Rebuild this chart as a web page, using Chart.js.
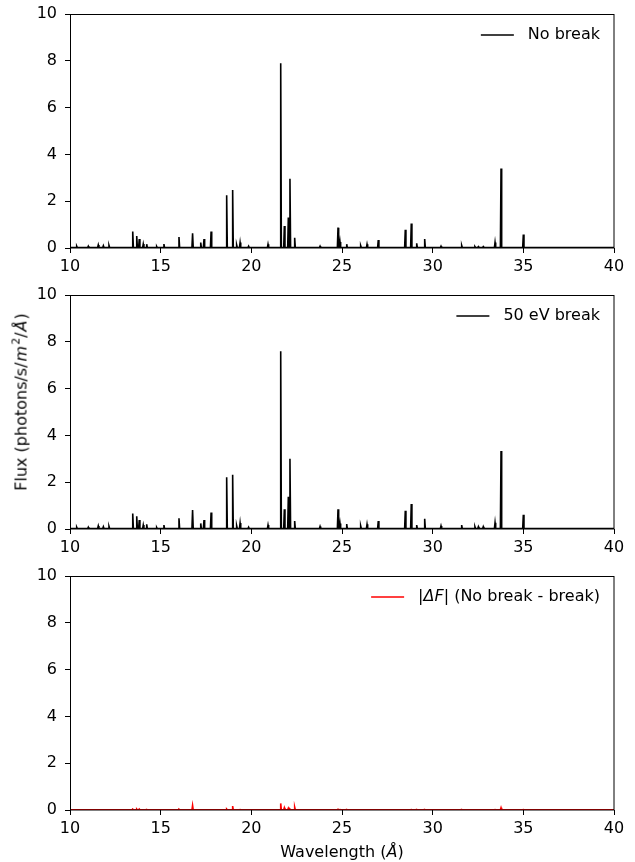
<!DOCTYPE html>
<html>
<head>
<meta charset="utf-8">
<script src="https://cdn.jsdelivr.net/npm/chart.js@4"></script>
<style>
  html, body { margin: 0; padding: 0; background: #fff; }
  body { width: 635px; height: 862px; position: relative; overflow: hidden; font-family: "DejaVu Sans", sans-serif; }
  .panel { position: absolute; left: 0; width: 635px; height: 281px; }
  #ytitle { position: absolute; left: 21px; top: 402px; transform: translate(-50%, -50%) rotate(-90deg); white-space: nowrap; font-size: 16px; color: #000; }
  #xtitle { position: absolute; left: 342px; top: 851px; transform: translate(-50%, -50%); white-space: nowrap; font-size: 16px; color: #000; }
  sup { font-size: 11px; vertical-align: 7px; line-height: 0; }
  #ytitle i { padding: 0 1px; }
</style>
</head>
<body>
<div class="panel" style="top:0px"><canvas id="c1" width="635" height="281"></canvas></div>
<div class="panel" style="top:281px"><canvas id="c2" width="635" height="281"></canvas></div>
<div class="panel" style="top:562px"><canvas id="c3" width="635" height="281"></canvas></div>
<div id="ytitle">Flux (photons/s/<i>m</i><sup>2</sup>/<i>Å</i>)</div>
<div id="xtitle">Wavelength (<i>Å</i>)</div>
<script>
// ---- Data ----
const xTicks = [10, 15, 20, 25, 30, 35, 40];
const yTicks = [0, 2, 4, 6, 8, 10];

// Emission-line centres (Å)
const lineCenters = [10.37, 11.01, 11.56, 11.84, 12.15, 13.46, 13.68, 13.82, 14.04, 14.23,
  14.78, 15.18, 16.01, 16.76, 17.21, 17.39, 17.78, 18.64, 18.97, 19.19,
  19.38, 19.85, 20.92, 21.62, 21.82, 22.04, 22.13, 22.39, 23.79, 24.78,
  24.89, 25.26, 26.03, 26.38, 27.00, 28.49, 28.82, 29.12, 29.56, 30.46,
  31.60, 32.33, 32.52, 32.79, 33.44, 33.77, 35.00];

// Peak flux, "No break"
const noBreakPeaks = [0.08, 0.08, 0.13, 0.10, 0.11, 0.70, 0.51, 0.38, 0.17, 0.16,
  0.07, 0.17, 0.47, 0.63, 0.23, 0.38, 0.70, 2.25, 2.48, 0.13,
  0.23, 0.08, 0.16, 7.89, 0.94, 1.30, 2.96, 0.44, 0.08, 0.87,
  0.26, 0.16, 0.10, 0.16, 0.34, 0.78, 1.05, 0.20, 0.38, 0.08,
  0.11, 0.06, 0.06, 0.06, 0.24, 3.40, 0.58];

// Peak flux, "50 eV break"
const breakPeaks = [0.08, 0.08, 0.13, 0.10, 0.11, 0.66, 0.54, 0.38, 0.17, 0.20,
  0.07, 0.17, 0.46, 0.81, 0.24, 0.38, 0.70, 2.21, 2.32, 0.14,
  0.26, 0.08, 0.17, 7.60, 0.84, 1.38, 3.00, 0.34, 0.11, 0.84,
  0.24, 0.21, 0.13, 0.20, 0.34, 0.78, 1.07, 0.17, 0.44, 0.13,
  0.17, 0.10, 0.10, 0.10, 0.27, 3.33, 0.61];

// Peak |ΔF| (No break - break)
const diffPeaks = [0.00, 0.00, 0.00, 0.00, 0.00, 0.03, 0.04, 0.04, 0.01, 0.02,
  0.00, 0.01, 0.03, 0.20, 0.01, 0.01, 0.01, 0.04, 0.17, 0.01,
  0.02, 0.00, 0.01, 0.28, 0.10, 0.08, 0.04, 0.12, 0.01, 0.03,
  0.02, 0.02, 0.01, 0.01, 0.01, 0.01, 0.02, 0.02, 0.02, 0.01,
  0.02, 0.01, 0.01, 0.01, 0.02, 0.10, 0.02];

const continuumLevel = [0.02, 0.02, 0.01]; // continuum flux for each panel

// ---- Build spectrum lines (narrow line profile, width is a drawing style) ----
const HALF_WIDTH = 0.035;
function spectrum(peaks, base) {
  const pts = [{x: 10, y: base}];
  lineCenters.forEach((c, i) => {
    pts.push({x: c - HALF_WIDTH, y: base});
    pts.push({x: c, y: Math.max(peaks[i], base)});
    pts.push({x: c + HALF_WIDTH, y: base});
  });
  pts.push({x: 40, y: base});
  return pts;
}

const FONT = '"DejaVu Sans", sans-serif';
const FS = 16;

const frameAndLegend = {
  id: 'frameAndLegend',
  afterDatasetsDraw(chart, args, opts) {
    const ctx = chart.ctx, a = chart.chartArea;
    ctx.save();
    ctx.strokeStyle = '#000';
    ctx.lineWidth = 1;
    ctx.strokeRect(Math.round(a.left) + 0.5, Math.round(a.top) + 0.5,
      Math.round(a.right - a.left) - 1 + 0.5, Math.round(a.bottom - a.top) - 0.5);
    // legend inside upper right
    const parts = opts.parts;
    let total = 0;
    parts.forEach(p => { ctx.font = (p.italic ? 'italic ' : '') + FS + 'px ' + FONT; p.w = ctx.measureText(p.t).width; total += p.w; });
    const textRight = a.right - 14;
    let x = textRight - total;
    const y = a.top + 21;
    ctx.strokeStyle = opts.color;
    ctx.lineWidth = 1.6;
    ctx.beginPath();
    ctx.moveTo(x - 14 - 33, y);
    ctx.lineTo(x - 14, y);
    ctx.stroke();
    ctx.fillStyle = '#000';
    ctx.textBaseline = 'middle';
    ctx.textAlign = 'left';
    parts.forEach(p => {
      ctx.font = (p.italic ? 'italic ' : '') + FS + 'px ' + FONT;
      ctx.fillText(p.t, x, y);
      x += p.w;
    });
    ctx.restore();
  }
};

function zeroPad(s) { s.paddingTop = 0; s.paddingBottom = 0; s.paddingLeft = 0; s.paddingRight = 0; }

function makeChart(id, data, color, parts) {
  return new Chart(document.getElementById(id), {
    type: 'line',
    data: { datasets: [{ data: data, borderColor: color, borderWidth: 1.6, pointRadius: 0, tension: 0, fill: false }] },
    options: {
      responsive: false,
      animation: false,
      layout: { padding: { top: 14, right: 21, left: 0, bottom: 0 } },
      plugins: { legend: { display: false }, tooltip: { enabled: false }, frameAndLegend: { color: color, parts: parts } },
      scales: {
        x: {
          type: 'linear', min: 10, max: 40,
          afterBuildTicks: s => { s.ticks = xTicks.map(v => ({value: v})); },
          afterFit: s => { s.height = 33; zeroPad(s); },
          border: { display: false },
          grid: { display: true, drawOnChartArea: false, drawTicks: true, tickLength: 5, color: '#000', lineWidth: 1 },
          ticks: { color: '#000', font: { family: FONT, size: FS }, padding: 4, maxRotation: 0 }
        },
        y: {
          type: 'linear', min: 0, max: 10,
          afterBuildTicks: s => { s.ticks = yTicks.map(v => ({value: v})); },
          afterFit: s => { s.width = 70; zeroPad(s); },
          border: { display: false },
          grid: { display: true, drawOnChartArea: false, drawTicks: true, tickLength: 5, color: '#000', lineWidth: 1 },
          ticks: { color: '#000', font: { family: FONT, size: FS }, padding: 8 }
        }
      }
    },
    plugins: [frameAndLegend]
  });
}

makeChart('c1', spectrum(noBreakPeaks, continuumLevel[0]), '#000', [{t: 'No break'}]);
makeChart('c2', spectrum(breakPeaks, continuumLevel[1]), '#000', [{t: '50 eV break'}]);
makeChart('c3', spectrum(diffPeaks, continuumLevel[2]), '#ff0000',
  [{t: '|'}, {t: 'ΔF', italic: true}, {t: '| (No break - break)'}]);
</script>
</body>
</html>
